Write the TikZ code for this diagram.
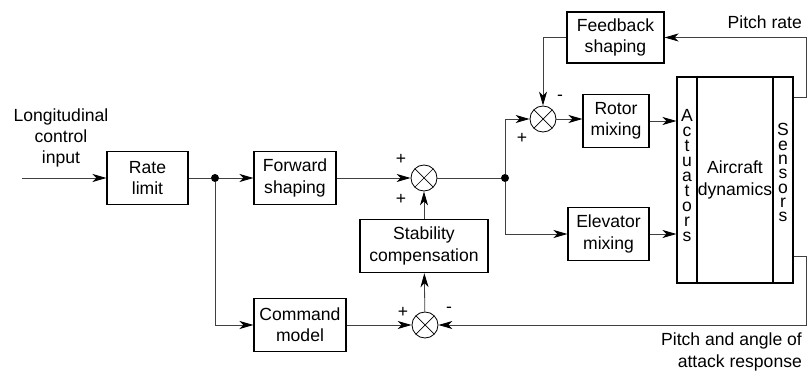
\documentclass[tikz,border=0pt]{standalone}
\usepackage{fontspec}
\setmainfont{Liberation Sans}
\usetikzlibrary{arrows.meta,positioning}

\begin{document}
\begin{tikzpicture}[
  x=0.03cm, y=-0.03cm,
  font=\fontsize{15}{18}\selectfont,
  box/.style={draw,line width=0.9pt,minimum height=1.6cm,align=center,inner sep=1pt},
  sum/.style={draw,circle,line width=0.7pt,minimum size=0.78cm,inner sep=0pt,
    path picture={\draw[line width=0.6pt]
      (path picture bounding box.north west) -- (path picture bounding box.south east)
      (path picture bounding box.south west) -- (path picture bounding box.north east);}},
  dot/.style={circle,fill,inner sep=0pt,minimum size=0.24cm},
  line/.style={line width=0.7pt,black!75},
  arr/.style={line,-{Stealth[length=0.42cm,width=0.24cm,inset=0.12cm,black]}},
  sgn/.style={inner sep=0pt},
  letter/.style={inner sep=0pt,anchor=base}
]
\useasboundingbox (0,0) rectangle (807,371);

% ---- forward path ----
\node[align=center] (inlbl) at (61,138) {Longitudinal\\control\\input};
\coordinate (in) at (22,178);
\node[box,minimum width=2.43cm] (rate) at (147.5,178) {Rate\\limit};
\node[dot] (j1) at (215,178) {};
\node[box,minimum width=2.46cm] (fwd) at (295,178) {Forward\\shaping};
\node[sum] (s1) at (424,178) {};
\node[dot] (j2) at (505,178) {};
\node[box,minimum width=3.84cm] (stab) at (424,246) {Stability\\compensation};
\node[box,minimum width=2.76cm] (cmd) at (300,325) {Command\\model};
\node[sum] (s2) at (425,325) {};

% ---- inner loop and mixing ----
\node[box,minimum width=2.91cm,minimum height=1.53cm] (fbk) at (615.5,37.5) {Feedback\\shaping};
\node[sum] (s3) at (543,119) {};
\node[box,minimum width=1.98cm] (rotor) at (616,121) {Rotor\\mixing};
\node[box,minimum width=2.43cm] (elev) at (608.5,234) {Elevator\\mixing};

% ---- aircraft ----
\node[box,minimum width=0.6cm,minimum height=6.18cm] (act) at (687,180) {};
\node[box,minimum width=2.28cm,minimum height=6.18cm,inner sep=0pt] (dyn) at (735,180) {Aircraft\\dynamics};
\node[box,minimum width=0.6cm,minimum height=6.18cm] (sen) at (783,180) {};
\foreach \l [count=\i] in {A,c,t,u,a,t,o,r,s}
  \node[letter] (act-\i) at (687,{121.5+15*(\i-1)}) {\l};
\foreach \l [count=\i] in {S,e,n,s,o,r,s}
  \node[letter] (sen-\i) at (783,{136+14.3*(\i-1)}) {\l};

% ---- connectors ----
\draw[arr] (in) -- (rate);
\draw[line] (rate) -- (j1);
\draw[arr] (j1) -- (fwd);
\draw[arr] (j1) |- (cmd);
\draw[arr] (fwd) -- (s1);
\draw[line] (s1) -- (j2);
\draw[arr] (stab) -- (s1);
\draw[arr] (cmd) -- (s2);
\draw[arr] (s2) -- (stab);
\draw[arr] (j2) |- (s3);
\draw[arr] (j2) |- (elev);
\draw[arr] (s3) -- (s3 -| rotor.west);
\draw[arr] (rotor.east) -- (rotor.east -| act.west);
\draw[arr] (elev) -- (elev -| act.west);

% ---- feedback ----
\coordinate (pr) at (806,97);
\coordinate (pa) at (806,256);
\draw[arr] (sen.east |- pr) -- (pr) |- (fbk);
\draw[arr] (fbk) -| (s3);
\draw[arr] (sen.east |- pa) -- (pa) |- (s2);
\node[anchor=east] (prlbl) at (806,22) {Pitch rate};
\node[anchor=east,align=right] (palbl) at (806,352) {Pitch and angle of\\attack response};

% ---- signs ----
\node[sgn] at ([shift={(-23,-19)}]s1) {+};
\node[sgn] at ([shift={(-23,21)}]s1) {+};
\node[sgn] at ([shift={(-22,-13)}]s2) {+};
\node[sgn] at ([shift={(24,-15)}]s2) {-};
\node[sgn] at ([shift={(17,-21)}]s3) {-};
\node[sgn] at ([shift={(-21,19)}]s3) {+};
\end{tikzpicture}
\end{document}
